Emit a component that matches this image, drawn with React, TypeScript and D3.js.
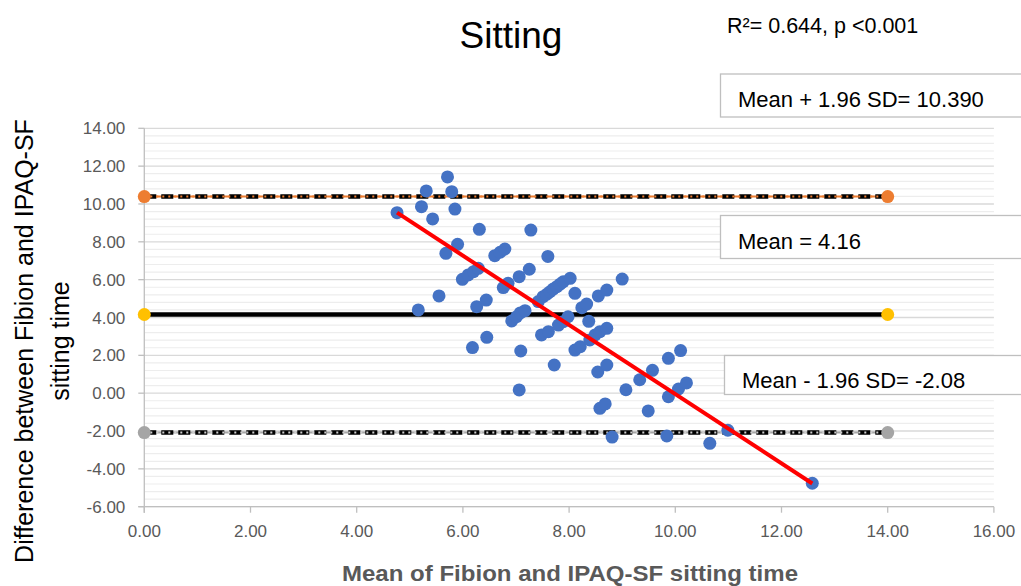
import React, { useEffect, useRef } from 'react';
import * as d3 from 'd3';

// mean of the two methods (x) and their difference (y)
const meanTime = [
  4.76, 5.16, 5.22, 5.31, 5.43, 5.55, 5.68, 5.71, 5.79, 5.85, 5.90, 5.99, 6.10, 6.20, 6.18,
  6.26, 6.29, 6.31, 6.44, 6.45, 6.60, 6.70, 6.79, 6.76, 6.85, 6.92, 7.01, 7.08, 7.17, 7.06,
  7.06, 7.09, 7.25, 7.28, 7.42, 7.51, 7.58, 7.64, 7.70, 7.77, 7.83, 7.89, 8.02, 7.60, 7.48,
  7.61, 7.72, 7.80, 7.89, 7.98, 8.11, 8.11, 8.21, 8.24, 8.33, 8.37, 8.39, 8.49, 8.58, 8.71,
  8.55, 8.71, 8.54, 8.71, 8.58, 8.68, 8.81, 9.00, 9.07, 9.33, 9.49, 9.57, 9.87, 9.87, 9.84,
  10.10, 10.06, 10.21, 10.65, 10.99, 12.58,
];
const diffTime = [
  9.54, 4.40, 9.86, 10.69, 9.21, 5.14, 7.39, 11.43, 10.65, 9.73, 7.87, 6.02, 6.25, 6.42, 2.41,
  4.57, 6.60, 8.66, 4.92, 2.95, 7.27, 7.45, 7.62, 5.58, 5.81, 3.82, 4.04, 4.24, 4.36, 6.16,
  0.17, 2.23, 6.55, 8.62, 4.84, 5.10, 5.23, 5.36, 5.50, 5.63, 5.76, 5.89, 6.07, 7.23, 3.08,
  3.25, 1.49, 3.60, 3.78, 4.04, 5.28, 2.28, 2.46, 4.52, 4.71, 3.80, 2.81, 3.08, 3.25, 3.43,
  5.14, 5.45, 1.12, 1.49, -0.80, -0.57, -2.32, 6.03, 0.18, 0.71, -0.94, 1.21, 1.84, -0.19, -2.26,
  2.25, 0.22, 0.54, -2.65, -1.96, -4.76,
];

const limitValues = [10.39, 4.16, -2.08];
const limitSpan = [0, 14];
const limitLabels = ['Mean + 1.96 SD= 10.390', 'Mean = 4.16', 'Mean - 1.96 SD= -2.08'];
const fitCoef = [18.25, -1.83]; // intercept, slope

const xTicks = [0, 2, 4, 6, 8, 10, 12, 14, 16];
const yTicks = [-6, -4, -2, 0, 2, 4, 6, 8, 10, 12, 14];

const chartTitle = 'Sitting';
const statText = 'R²= 0.644, p <0.001';
const xTitle = 'Mean of Fibion and IPAQ-SF sitting time';
const yTitle = ['Difference  between Fibion and IPAQ-SF', 'sitting time'];

const FONT = '"Liberation Sans", Arial, sans-serif';

function App() {
  const ref = useRef<SVGSVGElement>(null);
  const width = 1021;
  const height = 586;

  useEffect(() => {
    const svg = d3.select(ref.current);
    svg.selectAll('*').remove();

    const x = d3.scaleLinear().domain([0, 16]).range([144.3, 993.9]);
    const y = d3.scaleLinear().domain([-6, 14]).range([506.7, 128.3]);

    svg.append('rect').attr('width', width).attr('height', height).attr('fill', '#fff');

    // minor grid
    const minor = d3.range(-6, 14.001, 0.4).filter((v) => Math.abs(v / 2 - Math.round(v / 2)) > 0.01);
    svg.append('g').selectAll('line').data(minor).join('line')
      .attr('x1', x(0)).attr('x2', x(16))
      .attr('y1', (d) => y(d)).attr('y2', (d) => y(d))
      .attr('stroke', '#ededed').attr('stroke-width', 1.2);
    // major grid
    svg.append('g').selectAll('line').data(yTicks).join('line')
      .attr('x1', x(0)).attr('x2', x(16))
      .attr('y1', (d) => y(d)).attr('y2', (d) => y(d))
      .attr('stroke', '#d9d9d9').attr('stroke-width', 1.3);

    // axes
    const axisColor = '#bfbfbf';
    svg.append('line').attr('x1', x(0)).attr('x2', x(0)).attr('y1', y(14)).attr('y2', y(-6) + 6)
      .attr('stroke', axisColor).attr('stroke-width', 1.3);
    svg.append('line').attr('x1', x(0) - 6).attr('x2', x(16)).attr('y1', y(-6)).attr('y2', y(-6))
      .attr('stroke', axisColor).attr('stroke-width', 1.3);
    svg.append('g').selectAll('line').data(yTicks).join('line')
      .attr('x1', x(0) - 6).attr('x2', x(0)).attr('y1', (d) => y(d)).attr('y2', (d) => y(d))
      .attr('stroke', axisColor).attr('stroke-width', 1.3);
    svg.append('g').selectAll('line').data(xTicks).join('line')
      .attr('x1', (d) => x(d)).attr('x2', (d) => x(d)).attr('y1', y(-6)).attr('y2', y(-6) + 6)
      .attr('stroke', axisColor).attr('stroke-width', 1.3);

    svg.append('g').selectAll('text').data(yTicks).join('text')
      .attr('x', x(0) - 19).attr('y', (d) => y(d) + 6)
      .attr('text-anchor', 'end').attr('font-family', FONT).attr('font-size', 17)
      .attr('fill', '#595959').text((d) => d.toFixed(2));
    svg.append('g').selectAll('text').data(xTicks).join('text')
      .attr('x', (d) => x(d)).attr('y', 537)
      .attr('text-anchor', 'middle').attr('font-family', FONT).attr('font-size', 17)
      .attr('fill', '#595959').text((d) => d.toFixed(2));

    // limits of agreement and mean
    const markerColors = ['#ED7D31', '#FFC000', '#A5A5A5'];
    limitValues.forEach((v, i) => {
      const g = svg.append('g');
      const line = () => g.append('line')
        .attr('x1', x(limitSpan[0])).attr('x2', x(limitSpan[1]))
        .attr('y1', y(v)).attr('y2', y(v));
      if (i === 1) {
        line().attr('stroke', '#000').attr('stroke-width', 4.5);
      } else {
        line().attr('stroke', markerColors[i]).attr('stroke-width', 2);
        line().attr('stroke', '#000').attr('stroke-width', 4.5).attr('stroke-dasharray', '12 5');
        line().attr('stroke', i === 0 ? '#ED7D31' : '#cfcfcf').attr('stroke-width', 2)
          .attr('stroke-dasharray', '2 4');
      }
      g.selectAll('circle').data(limitSpan).join('circle')
        .attr('cx', (d) => x(d)).attr('cy', y(v)).attr('r', 6.5)
        .attr('fill', markerColors[i]);
    });

    // points
    svg.append('g').selectAll('circle').data(meanTime).join('circle')
      .attr('cx', (d) => x(d)).attr('cy', (_, i) => y(diffTime[i])).attr('r', 6.5)
      .attr('fill', '#4472C4');

    // fitted line
    const [x0, x1] = d3.extent(meanTime) as [number, number];
    const fit = d3.line<number>().x((d) => x(d)).y((d) => y(fitCoef[0] + fitCoef[1] * d));
    svg.append('path').attr('d', fit([x0, x1])).attr('stroke', '#FF0000')
      .attr('stroke-width', 4).attr('fill', 'none');

    // label boxes
    const boxes = [
      { x: 720.5, y: 74, w: 310, h: 43, tx: 738, ty: 107 },
      { x: 720.5, y: 215.5, w: 310, h: 43, tx: 738, ty: 249 },
      { x: 724.5, y: 355.5, w: 310, h: 39, tx: 742, ty: 388 },
    ];
    boxes.forEach((b, i) => {
      svg.append('rect').attr('x', b.x).attr('y', b.y).attr('width', b.w).attr('height', b.h)
        .attr('fill', '#fff').attr('stroke', '#bfbfbf').attr('stroke-width', 1.3);
      svg.append('text').attr('x', b.tx).attr('y', b.ty).attr('font-family', FONT)
        .attr('font-size', 22).attr('fill', '#000').text(limitLabels[i]);
    });

    // titles
    svg.append('text').attr('x', 511).attr('y', 48).attr('text-anchor', 'middle')
      .attr('font-family', FONT).attr('font-size', 37).attr('fill', '#000').text(chartTitle);
    svg.append('text').attr('x', 727).attr('y', 33)
      .attr('font-family', FONT).attr('font-size', 21.5).attr('fill', '#000').text(statText);
    svg.append('text').attr('x', 342).attr('y', 581)
      .attr('textLength', 456).attr('lengthAdjust', 'spacingAndGlyphs')
      .attr('font-family', FONT).attr('font-size', 22).attr('font-weight', 'bold')
      .attr('fill', '#595959').text(xTitle);
    yTitle.forEach((t, i) => {
      svg.append('text').attr('transform', `translate(${33 + i * 36}, 341) rotate(-90)`)
        .attr('text-anchor', 'middle').attr('font-family', FONT).attr('font-size', 25)
        .attr('fill', '#000').text(t);
    });
  }, []);

  return (
    <svg ref={ref} width={width} height={height}
      style={{ position: 'absolute', left: 0, top: 0, display: 'block' }} />
  );
}

export default App;
